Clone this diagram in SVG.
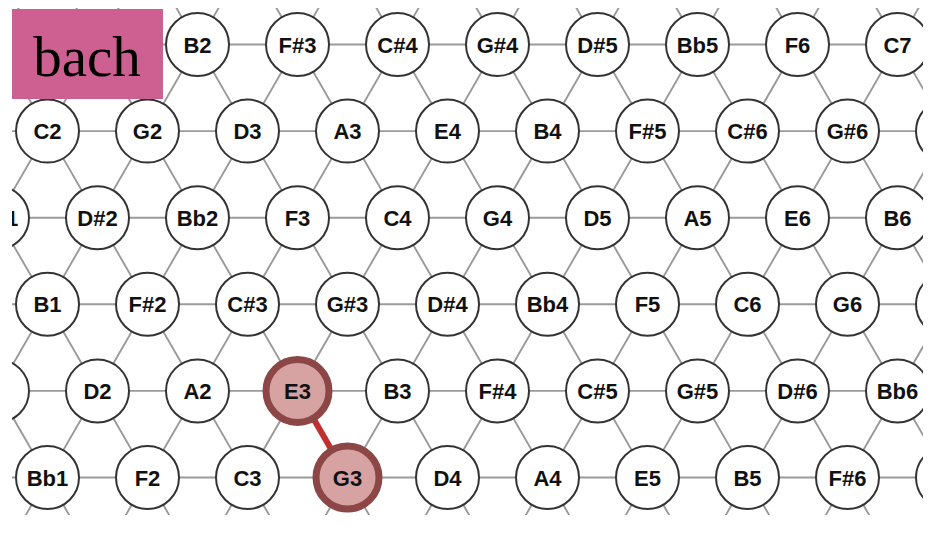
<svg xmlns="http://www.w3.org/2000/svg" width="932" height="534" viewBox="0 0 932 534">
<defs>
<clipPath id="clip"><rect x="12" y="8" width="911" height="507"/></clipPath>
<style>
.grid{stroke:#9a9a9a;stroke-width:1.9;fill:none}
.hl-edge{stroke:#c0302f;stroke-width:6;stroke-linecap:round}
.n circle{fill:#fff;stroke:#333;stroke-width:2}
.n.hl circle{fill:#d6a2a2;stroke:#8c4646;stroke-width:7}
.n text{font-family:"Liberation Sans",Arial,sans-serif;font-weight:bold;font-size:22px;fill:#111;text-anchor:middle}
.title{font-family:"Liberation Serif","Times New Roman",serif;font-size:57px;fill:#000;text-anchor:middle}
</style>
</defs>
<rect width="932" height="534" fill="#fff"/>
<g clip-path="url(#clip)">
<g id="connectors">
<path class="grid" d="M0 44.5H932M0 131.1H932M0 217.7H932M0 304.3H932M0 390.9H932M0 477.5H932
M-228.19 0L80.12 534M-128.19 0L180.12 534M-28.19 0L280.12 534M71.81 0L380.12 534M171.81 0L480.12 534M271.81 0L580.12 534M371.81 0L680.12 534M471.81 0L780.12 534M571.81 0L880.12 534M671.81 0L980.12 534M771.81 0L1080.12 534M871.81 0L1180.12 534
M23.19 0L-285.12 534M123.19 0L-185.12 534M223.19 0L-85.12 534M323.19 0L14.88 534M423.19 0L114.88 534M523.19 0L214.88 534M623.19 0L314.88 534M723.19 0L414.88 534M823.19 0L514.88 534M923.19 0L614.88 534M1023.19 0L714.88 534M1123.19 0L814.88 534M1223.19 0L914.88 534"/>
<line id="edge-E3-G3" class="hl-edge" x1="297.5" y1="390.9" x2="347.5" y2="477.5"/>
</g>
<g id="n-B2" class="n"><circle cx="197.5" cy="44.5" r="31.5"/><text x="197.5" y="52.5">B2</text></g>
<g id="n-Fs3" class="n"><circle cx="297.5" cy="44.5" r="31.5"/><text x="297.5" y="52.5">F#3</text></g>
<g id="n-Cs4" class="n"><circle cx="397.5" cy="44.5" r="31.5"/><text x="397.5" y="52.5">C#4</text></g>
<g id="n-Gs4" class="n"><circle cx="497.5" cy="44.5" r="31.5"/><text x="497.5" y="52.5">G#4</text></g>
<g id="n-Ds5" class="n"><circle cx="597.5" cy="44.5" r="31.5"/><text x="597.5" y="52.5">D#5</text></g>
<g id="n-Bb5" class="n"><circle cx="697.5" cy="44.5" r="31.5"/><text x="697.5" y="52.5">Bb5</text></g>
<g id="n-F6" class="n"><circle cx="797.5" cy="44.5" r="31.5"/><text x="797.5" y="52.5">F6</text></g>
<g id="n-C7" class="n"><circle cx="897.5" cy="44.5" r="31.5"/><text x="897.5" y="52.5">C7</text></g>

<g id="n-C2" class="n"><circle cx="47.5" cy="131.1" r="31.5"/><text x="47.5" y="139.1">C2</text></g>
<g id="n-G2" class="n"><circle cx="147.5" cy="131.1" r="31.5"/><text x="147.5" y="139.1">G2</text></g>
<g id="n-D3" class="n"><circle cx="247.5" cy="131.1" r="31.5"/><text x="247.5" y="139.1">D3</text></g>
<g id="n-A3" class="n"><circle cx="347.5" cy="131.1" r="31.5"/><text x="347.5" y="139.1">A3</text></g>
<g id="n-E4" class="n"><circle cx="447.5" cy="131.1" r="31.5"/><text x="447.5" y="139.1">E4</text></g>
<g id="n-B4" class="n"><circle cx="547.5" cy="131.1" r="31.5"/><text x="547.5" y="139.1">B4</text></g>
<g id="n-Fs5" class="n"><circle cx="647.5" cy="131.1" r="31.5"/><text x="647.5" y="139.1">F#5</text></g>
<g id="n-Cs6" class="n"><circle cx="747.5" cy="131.1" r="31.5"/><text x="747.5" y="139.1">C#6</text></g>
<g id="n-Gs6" class="n"><circle cx="847.5" cy="131.1" r="31.5"/><text x="847.5" y="139.1">G#6</text></g>
<g id="n-Ds7" class="n"><circle cx="947.5" cy="131.1" r="31.5"/></g>

<g id="n-Gs1" class="n"><circle cx="-2.5" cy="217.7" r="31.5"/><text x="-2.5" y="225.7">G#1</text></g>
<g id="n-Ds2" class="n"><circle cx="97.5" cy="217.7" r="31.5"/><text x="97.5" y="225.7">D#2</text></g>
<g id="n-Bb2" class="n"><circle cx="197.5" cy="217.7" r="31.5"/><text x="197.5" y="225.7">Bb2</text></g>
<g id="n-F3" class="n"><circle cx="297.5" cy="217.7" r="31.5"/><text x="297.5" y="225.7">F3</text></g>
<g id="n-C4" class="n"><circle cx="397.5" cy="217.7" r="31.5"/><text x="397.5" y="225.7">C4</text></g>
<g id="n-G4" class="n"><circle cx="497.5" cy="217.7" r="31.5"/><text x="497.5" y="225.7">G4</text></g>
<g id="n-D5" class="n"><circle cx="597.5" cy="217.7" r="31.5"/><text x="597.5" y="225.7">D5</text></g>
<g id="n-A5" class="n"><circle cx="697.5" cy="217.7" r="31.5"/><text x="697.5" y="225.7">A5</text></g>
<g id="n-E6" class="n"><circle cx="797.5" cy="217.7" r="31.5"/><text x="797.5" y="225.7">E6</text></g>
<g id="n-B6" class="n"><circle cx="897.5" cy="217.7" r="31.5"/><text x="897.5" y="225.7">B6</text></g>

<g id="n-B1" class="n"><circle cx="47.5" cy="304.3" r="31.5"/><text x="47.5" y="312.3">B1</text></g>
<g id="n-Fs2" class="n"><circle cx="147.5" cy="304.3" r="31.5"/><text x="147.5" y="312.3">F#2</text></g>
<g id="n-Cs3" class="n"><circle cx="247.5" cy="304.3" r="31.5"/><text x="247.5" y="312.3">C#3</text></g>
<g id="n-Gs3" class="n"><circle cx="347.5" cy="304.3" r="31.5"/><text x="347.5" y="312.3">G#3</text></g>
<g id="n-Ds4" class="n"><circle cx="447.5" cy="304.3" r="31.5"/><text x="447.5" y="312.3">D#4</text></g>
<g id="n-Bb4" class="n"><circle cx="547.5" cy="304.3" r="31.5"/><text x="547.5" y="312.3">Bb4</text></g>
<g id="n-F5" class="n"><circle cx="647.5" cy="304.3" r="31.5"/><text x="647.5" y="312.3">F5</text></g>
<g id="n-C6" class="n"><circle cx="747.5" cy="304.3" r="31.5"/><text x="747.5" y="312.3">C6</text></g>
<g id="n-G6" class="n"><circle cx="847.5" cy="304.3" r="31.5"/><text x="847.5" y="312.3">G6</text></g>
<g id="n-D7" class="n"><circle cx="947.5" cy="304.3" r="31.5"/></g>

<g id="n-G1" class="n"><circle cx="-2.5" cy="390.9" r="31.5"/></g>
<g id="n-D2" class="n"><circle cx="97.5" cy="390.9" r="31.5"/><text x="97.5" y="398.9">D2</text></g>
<g id="n-A2" class="n"><circle cx="197.5" cy="390.9" r="31.5"/><text x="197.5" y="398.9">A2</text></g>
<g id="n-E3" class="n hl"><circle cx="297.5" cy="390.9" r="31.5"/><text x="297.5" y="398.9">E3</text></g>
<g id="n-B3" class="n"><circle cx="397.5" cy="390.9" r="31.5"/><text x="397.5" y="398.9">B3</text></g>
<g id="n-Fs4" class="n"><circle cx="497.5" cy="390.9" r="31.5"/><text x="497.5" y="398.9">F#4</text></g>
<g id="n-Cs5" class="n"><circle cx="597.5" cy="390.9" r="31.5"/><text x="597.5" y="398.9">C#5</text></g>
<g id="n-Gs5" class="n"><circle cx="697.5" cy="390.9" r="31.5"/><text x="697.5" y="398.9">G#5</text></g>
<g id="n-Ds6" class="n"><circle cx="797.5" cy="390.9" r="31.5"/><text x="797.5" y="398.9">D#6</text></g>
<g id="n-Bb6" class="n"><circle cx="897.5" cy="390.9" r="31.5"/><text x="897.5" y="398.9">Bb6</text></g>

<g id="n-Bb1" class="n"><circle cx="47.5" cy="477.5" r="31.5"/><text x="47.5" y="485.5">Bb1</text></g>
<g id="n-F2" class="n"><circle cx="147.5" cy="477.5" r="31.5"/><text x="147.5" y="485.5">F2</text></g>
<g id="n-C3" class="n"><circle cx="247.5" cy="477.5" r="31.5"/><text x="247.5" y="485.5">C3</text></g>
<g id="n-G3" class="n hl"><circle cx="347.5" cy="477.5" r="31.5"/><text x="347.5" y="485.5">G3</text></g>
<g id="n-D4" class="n"><circle cx="447.5" cy="477.5" r="31.5"/><text x="447.5" y="485.5">D4</text></g>
<g id="n-A4" class="n"><circle cx="547.5" cy="477.5" r="31.5"/><text x="547.5" y="485.5">A4</text></g>
<g id="n-E5" class="n"><circle cx="647.5" cy="477.5" r="31.5"/><text x="647.5" y="485.5">E5</text></g>
<g id="n-B5" class="n"><circle cx="747.5" cy="477.5" r="31.5"/><text x="747.5" y="485.5">B5</text></g>
<g id="n-Fs6" class="n"><circle cx="847.5" cy="477.5" r="31.5"/><text x="847.5" y="485.5">F#6</text></g>
<g id="n-Cs7" class="n"><circle cx="947.5" cy="477.5" r="31.5"/></g>
</g>
<g id="label-bach">
<rect x="12" y="9" width="151" height="90" fill="#cd6090"/>
<text class="title" x="87" y="76">bach</text>
</g>
</svg>
